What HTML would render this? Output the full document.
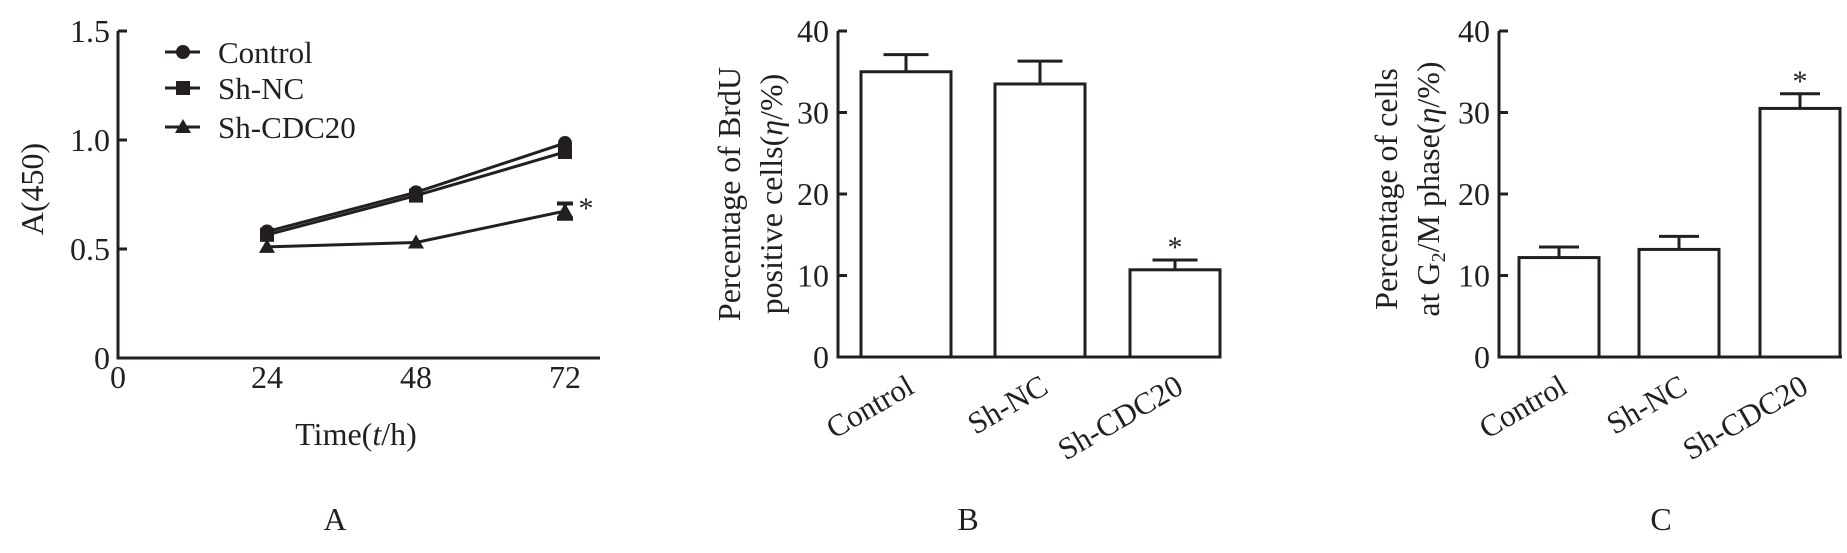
<!DOCTYPE html>
<html><head><meta charset="utf-8"><style>
html,body{margin:0;padding:0;background:#fff;}
svg{display:block;}
text{font-family:"Liberation Serif","Noto Serif CJK SC",serif;fill:#231f20;}
</style></head><body>
<svg id="fig" width="1847" height="553" viewBox="0 0 1847 553" xmlns="http://www.w3.org/2000/svg"></svg>
<script>
// Panel A data
const timeCats = [24, 48, 72];
const xTicksA = [0, 24, 48, 72];
const yTicksA = [0, 0.5, 1.0, 1.5];
const yTickLabelsA = ["0", "0.5", "1.0", "1.5"];
const controlA = [0.58, 0.76, 0.986];
const shncA = [0.565, 0.745, 0.945];
const shcdcA = [0.51, 0.53, 0.674];
const shcdcErrA = [0.005, 0.01, 0.035];
// Panel B data
const groups = ["Control", "Sh-NC", "Sh-CDC20"];
const brduVals = [35.0, 33.5, 10.7];
const brduErr = [2.1, 2.8, 1.2];
// Panel C data
const g2mVals = [12.2, 13.2, 30.5];
const g2mErr = [1.3, 1.6, 1.8];
const yTicksBar = [0, 10, 20, 30, 40];

const NS = "http://www.w3.org/2000/svg";
const svg = document.getElementById('fig');
function mk(tag, attrs, parent){
  const e = document.createElementNS(NS, tag);
  for (const k in attrs) e.setAttribute(k, attrs[k]);
  (parent||svg).appendChild(e);
  return e;
}
const C = "#231f20";

// ---------- Panel A ----------
const gA = mk('g', {});


const ax0 = 118, ax1 = 600, ay0 = 358, ayTop = 31;
const xA = v => ax0 + (v - 0) * (565 - ax0) / 72;
const yA = v => ay0 - v * (ay0 - ayTop) / 1.5;
let e = mk('path', {d:`M${ax0} ${yA(1.5)} V${ay0} H${ax1}`, stroke:C, 'stroke-width':3, fill:'none'}, gA);


yTicksA.forEach((t,i)=>{
  const y = yA(t);
  let tk = mk('line', {x1:ax0, x2:ax0+9, y1:y, y2:y, stroke:C, 'stroke-width':3}, gA);
  
  
  let tl = mk('text', {x:ax0-8, y:y+11, 'font-size':32, 'text-anchor':'end', fill:'#555'}, gA);
  tl.textContent = yTickLabelsA[i];
  
  
});
xTicksA.forEach(t=>{
  let tl = mk('text', {x:xA(t), y:388, 'font-size':32, 'text-anchor':'middle'}, gA);
  tl.textContent = String(t);
  
  
});
e = mk('text', {x:0, y:0, 'font-size':32, 'text-anchor':'middle', transform:'translate(43,189) rotate(-90)'}, gA);
e.textContent = 'A(450)';


e = mk('text', {x:356, y:445, 'font-size':32, 'text-anchor':'middle'}, gA);
e.innerHTML = 'Time(<tspan font-style="italic">t</tspan>/h)';


e = mk('text', {x:335, y:530, 'font-size':32, 'text-anchor':'middle'}, gA);
e.textContent = 'A';



function marker(type, x, y, parent){
  let m;
  if (type==='circle') m = mk('circle', {cx:x, cy:y, r:7, fill:C}, parent);
  else if (type==='square') m = mk('rect', {x:x-7, y:y-7, width:14, height:14, fill:C}, parent);
  else m = mk('path', {d:`M${x} ${y-8} L${x+8} ${y+6} L${x-8} ${y+6} Z`, fill:C}, parent);
  return m;
}
const seriesA = [
  {name:'control', vals:controlA, m:'circle'},
  {name:'sh-nc', vals:shncA, m:'square'},
  {name:'sh-cdc20', vals:shcdcA, m:'triangle', err:shcdcErrA}
];
seriesA.forEach(s=>{
  const pts = s.vals.map((v,i)=>`${xA(timeCats[i])},${yA(v)}`).join(' ');
  let l = mk('polyline', {points:pts, fill:'none', stroke:C, 'stroke-width':3}, gA);
  
  
  s.vals.forEach((v,i)=>{
    const x = xA(timeCats[i]), y = yA(v);
    if (s.err && s.err[i] > 0.01){
      const e1 = yA(v+s.err[i]), e2 = yA(v-s.err[i]);
      let eb = mk('path', {d:`M${x} ${e1} V${e2} M${x-8} ${e1} H${x+8} M${x-8} ${e2} H${x+8}`, stroke:C, 'stroke-width':4, fill:'none'}, gA);
      
      
    }
    let m = marker(s.m, x, y, gA);
    
    
  });
});
e = mk('text', {x:586, y:218, 'font-size':30, 'text-anchor':'middle'}, gA);
e.textContent = '*';


// legend
const legendNames = ['Control','Sh-NC','Sh-CDC20'];
const legendY = [52, 88, 127];
['circle','square','triangle'].forEach((t,i)=>{
  const g = mk('g', {}, gA);
  
  
  mk('line', {x1:165, x2:200, y1:legendY[i], y2:legendY[i], stroke:C, 'stroke-width':3}, g);
  marker(t, 183, legendY[i], g);
  const tx = mk('text', {x:218, y:legendY[i]+11, 'font-size':31}, g);
  tx.textContent = legendNames[i];
});

// ---------- Bar panels ----------
function barPanel(opts){
  const g = mk('g', {});
  
  
  const y0 = 357, yT = 31;
  const y = v => y0 - v * (y0 - yT) / 40;
  let a = mk('path', {d:`M${opts.ax} ${y(40)} V${y0} H${opts.axEnd}`, stroke:C, 'stroke-width':3, fill:'none'}, g);
  
  
  yTicksBar.forEach(t=>{
    let tk = mk('line', {x1:opts.ax, x2:opts.ax+9, y1:y(t), y2:y(t), stroke:C, 'stroke-width':3}, g);
    
    
    let tl = mk('text', {x:opts.ax-9, y:y(t)+11, 'font-size':32, 'text-anchor':'end', fill:'#555'}, g);
    tl.textContent = String(t);
    
    
  });
  opts.vals.forEach((v,i)=>{
    const bx = opts.barX[i], bw = opts.bw, cx = bx + bw/2;
    const et = y(v + opts.err[i]);
    let eb = mk('path', {d:`M${cx} ${y(v)} V${et} M${cx-bw/4} ${et} H${cx+bw/4}`, stroke:C, 'stroke-width':3, fill:'none'}, g);
    
    
    let r = mk('rect', {x:bx, y:y(v), width:bw, height:y0-y(v), fill:'#fff', stroke:C, 'stroke-width':3}, g);
    
    
    let tl = mk('text', {x:0, y:0, 'font-size':31, 'text-anchor':'end', transform:`translate(${cx+opts.labOff},${392}) rotate(-30)`}, g);
    tl.textContent = groups[i];
    
    
  });
  const si = opts.vals.length-1;
  let st = mk('text', {x:opts.barX[si]+opts.bw/2, y:y(opts.vals[si]+opts.err[si])-3, 'font-size':30, 'text-anchor':'middle'}, g);
  st.textContent = '*';
  
  
  opts.title.forEach((t,i)=>{
    let tt = mk('text', {x:0, y:0, 'font-size':32, 'text-anchor':'middle', transform:`translate(${opts.titleX[i]},${opts.titleY}) rotate(-90)`}, g);
    tt.innerHTML = t;
    
    
  });
  let pl = mk('text', {x:opts.plX, y:530, 'font-size':32, 'text-anchor':'middle'}, g);
  pl.textContent = opts.pl;
  
  
}
barPanel({name:'panel-b-bar-chart', ax:838, axEnd:1221, vals:brduVals, err:brduErr,
  barX:[861, 995, 1130], bw:90, labOff:10,
  title:['Percentage of BrdU','positive cells(<tspan font-style="italic">η</tspan>/%)'], titleX:[740,782], titleY:194,
  pl:'B', plX:968});
barPanel({name:'panel-c-bar-chart', ax:1499, axEnd:1842, vals:g2mVals, err:g2mErr,
  barX:[1519, 1639, 1760], bw:80, labOff:10,
  title:['Percentage of cells','at G<tspan font-size="20" dy="6">2</tspan><tspan dy="-6">/M phase(</tspan><tspan font-style="italic">η</tspan>/%)'], titleX:[1397,1439], titleY:189,
  pl:'C', plX:1661});
</script>
</body></html>
